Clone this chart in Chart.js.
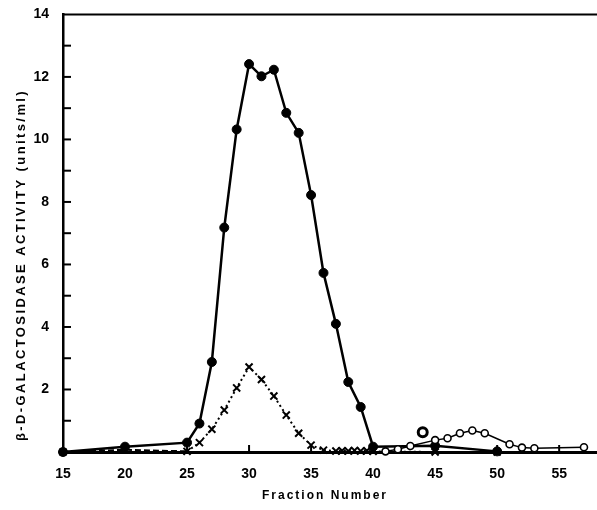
<!DOCTYPE html>
<html>
<head>
<meta charset="utf-8">
<script src="https://cdn.jsdelivr.net/npm/chart.js@4/dist/chart.umd.min.js"></script>
<style>
  html, body { margin: 0; padding: 0; background: #fff; }
  canvas { display: block; }
</style>
</head>
<body>
<canvas id="chart" width="597" height="510"></canvas>
<script>
/* ===============================
   DATA
=============================== */
// filled circles, solid line
const solidX = [15, 20, 25, 26, 27, 28, 29, 30, 31, 32, 33, 34, 35, 36, 37, 38, 39, 40, 45, 50];
const solidY = [0, 0.17, 0.3, 0.91, 2.88, 7.18, 10.32, 12.41, 12.02, 12.23, 10.85, 10.21, 8.22, 5.73, 4.1, 2.24, 1.44, 0.17, 0.2, 0.02];

// crosses, dashed then dotted line
const crossX = [15, 20, 25, 26, 27, 28, 29, 30, 31, 32, 33, 34, 35, 36, 37, 37.5, 38, 38.5, 39, 39.5, 40, 45, 50];
const crossY = [0, 0.07, 0.02, 0.3, 0.73, 1.34, 2.05, 2.72, 2.32, 1.79, 1.18, 0.6, 0.22, 0.06, 0.03, 0.04, 0.03, 0.05, 0.03, 0.04, 0.02, 0, 0];

// open circles, thin solid line
const openX = [41, 42, 43, 45, 46, 47, 48, 49, 51, 52, 53, 57];
const openY = [0.02, 0.09, 0.19, 0.38, 0.44, 0.6, 0.69, 0.6, 0.25, 0.14, 0.12, 0.15];

// lone marked point
const loneX = [44];
const loneY = [0.63];

const xTicks = [15, 20, 25, 30, 35, 40, 45, 50, 55];
const yTicks = [0, 1, 2, 3, 4, 5, 6, 7, 8, 9, 10, 11, 12, 13, 14];

const xTitle = 'Fraction Number';
const yTitle = '\u03B2-D-GALACTOSIDASE ACTIVITY (units/ml)';

/* ===============================
   HELPERS
=============================== */
const toPoints = (xs, ys) => xs.map((x, i) => ({ x, y: ys[i] }));
const FONT = '"Liberation Sans", Arial, sans-serif';

/* ===============================
   PLUGIN: inner ticks, top frame, axis titles
=============================== */
const framePlugin = {
  id: 'frame',
  afterDraw(chart) {
    const { ctx, chartArea: a, scales: { x, y } } = chart;
    ctx.save();
    ctx.strokeStyle = '#000';
    ctx.lineWidth = 2;

    // top border at 14
    ctx.beginPath();
    ctx.moveTo(a.left, y.getPixelForValue(14));
    ctx.lineTo(chart.width, y.getPixelForValue(14));
    ctx.stroke();

    // y ticks pointing inward
    yTicks.forEach(v => {
      if (v === 0 || v === 14) return;
      const py = y.getPixelForValue(v);
      ctx.beginPath();
      ctx.moveTo(a.left, py);
      ctx.lineTo(a.left + 8, py);
      ctx.stroke();
    });

    // x ticks pointing up
    xTicks.forEach(v => {
      if (v === 15) return;
      const px = x.getPixelForValue(v);
      ctx.beginPath();
      ctx.moveTo(px, a.bottom);
      ctx.lineTo(px, a.bottom - 7);
      ctx.stroke();
    });

    // axis titles with letter spacing
    ctx.fillStyle = '#000';
    ctx.font = 'bold 12px ' + FONT;
    ctx.letterSpacing = '2px';
    ctx.textAlign = 'center';
    ctx.textBaseline = 'middle';
    ctx.fillText(xTitle, 325, 496);

    ctx.font = 'bold 13px ' + FONT;
    ctx.letterSpacing = '2.4px';
    ctx.translate(21, 265);
    ctx.rotate(-Math.PI / 2);
    ctx.fillText(yTitle, 0, 0);
    ctx.restore();
  }
};

/* ===============================
   CHART
=============================== */
new Chart(document.getElementById('chart'), {
  type: 'scatter',
  data: {
    datasets: [
      {
        label: 'open',
        data: toPoints(openX, openY),
        showLine: true,
        borderColor: '#000',
        borderWidth: 1.5,
        pointStyle: 'circle',
        pointRadius: 3.5,
        pointBackgroundColor: '#fff',
        pointBorderColor: '#000',
        pointBorderWidth: 1.6,
        clip: false
      },
      {
        label: 'lone',
        data: toPoints(loneX, loneY),
        showLine: false,
        pointRadius: 4.5,
        pointBackgroundColor: '#fff',
        pointBorderColor: '#000',
        pointBorderWidth: 3,
        clip: false
      },
      {
        label: 'cross',
        data: toPoints(crossX, crossY),
        showLine: true,
        borderColor: '#000',
        borderWidth: 2,
        segment: {
          borderDash: ctx => ctx.p0.parsed.x < 25 ? [6, 3] : [2, 3]
        },
        pointStyle: 'crossRot',
        pointRadius: 5,
        pointBorderColor: '#000',
        pointBorderWidth: 2,
        clip: false
      },
      {
        label: 'solid',
        data: toPoints(solidX, solidY),
        showLine: true,
        borderColor: '#000',
        borderWidth: 2.5,
        pointStyle: 'circle',
        pointRadius: 4.5,
        pointBackgroundColor: '#000',
        pointBorderColor: '#000',
        pointBorderWidth: 1,
        clip: false
      }
    ]
  },
  options: {
    responsive: false,
    animation: false,
    devicePixelRatio: 1,
    layout: { autoPadding: false, padding: { top: 13, right: 0, left: 0, bottom: 0 } },
    plugins: {
      legend: { display: false },
      tooltip: { enabled: false }
    },
    scales: {
      x: {
        type: 'linear',
        min: 15,
        max: 58.05,
        afterBuildTicks: s => { s.ticks = xTicks.map(v => ({ value: v })); },
        afterFit: s => { s.height = 58; s.paddingRight = 0; s.paddingLeft = 0; },
        grid: { display: false },
        border: { color: '#000', width: 3 },
        ticks: {
          color: '#000',
          padding: 6,
          font: { family: FONT, size: 14, weight: 'bold' }
        }
      },
      y: {
        min: 0,
        max: 14,
        afterBuildTicks: s => { s.ticks = yTicks.map(v => ({ value: v })); },
        afterFit: s => { s.width = 63; },
        grid: { display: false },
        border: { color: '#000', width: 2.5 },
        ticks: {
          color: '#000',
          padding: 6,
          callback: v => (v > 0 && v % 2 === 0) ? String(v) : '',
          font: { family: FONT, size: 14, weight: 'bold' }
        }
      }
    }
  },
  plugins: [framePlugin]
});
</script>
</body>
</html>
